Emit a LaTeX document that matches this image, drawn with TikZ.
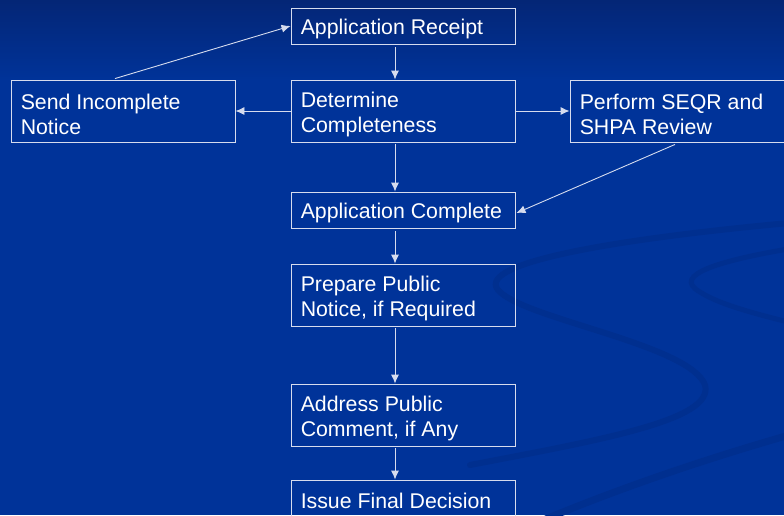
\documentclass[tikz,border=0pt]{standalone}
\usepackage{fontspec}
\setmainfont{Liberation Sans}
\usetikzlibrary{arrows.meta,calc}
\definecolor{bgblue}{RGB}{0,51,153}
\definecolor{bgtop}{RGB}{4,38,118}
\definecolor{swoosh}{RGB}{0,47,143}
\definecolor{linec}{RGB}{214,220,238}
\tikzset{
  x=1pt,y=-1pt,
  stepbox/.style={draw=linec, line width=0.9pt, rectangle, minimum width=224pt, inner sep=0pt},
  onel/.style={stepbox, minimum height=36pt},
  twol/.style={stepbox, minimum height=62pt},
  txt/.style={anchor=west, align=left, inner sep=0pt, text=white,
    font=\fontsize{21.3}{25}\selectfont, xshift=10pt, yshift=-3pt},
  conn/.style={draw=linec, line width=0.9pt, -{Latex[length=9pt,width=8pt]}},
}
\begin{document}
\begin{tikzpicture}
\useasboundingbox (0,0) rectangle (784,515);
\fill[bgblue] (0,0) rectangle (784,515);
\shade[top color=bgtop, bottom color=bgblue] (0,0) rectangle (784,80);
% swooshes
\begin{scope}
\clip (0,0) rectangle (784,515);
\draw[swoosh, line width=6pt, line cap=round]
  (800,222) .. controls (600,240) and (470,265) .. (500,292)
  .. controls (530,320) and (690,345) .. (705,385)
  .. controls (715,420) and (600,440) .. (470,465);
\draw[swoosh, line width=5pt]
  (800,247) .. controls (720,260) and (670,275) .. (700,292)
  .. controls (720,305) and (760,315) .. (800,325);
\draw[swoosh, line width=7pt]
  (800,432) .. controls (700,460) and (600,495) .. (520,530);
\end{scope}
% boxes
\node[onel] (rec) at (403,26) {};
\node[twol] (det) at (403,111) {};
\node[twol] (inc) at (123,111) {};
\node[twol] (seqr) at (682,111) {};
\node[onel] (comp) at (403,210) {};
\node[twol] (prep) at (403,295) {};
\node[twol] (addr) at (403,415) {};
\node[onel] (iss) at (403,498) {};
% texts
\node[txt] (recT) at (rec.west) {Application Receipt};
\node[txt] (detT) at (det.west) {Determine\\Completeness};
\node[txt] (incT) at (inc.west) {Send Incomplete\\Notice};
\node[txt] (seqrT) at (seqr.west) {Perform SEQR and\\SHPA Review};
\node[txt] (compT) at (comp.west) {Application Complete};
\node[txt] (prepT) at (prep.west) {Prepare Public\\Notice, if Required};
\node[txt] (addrT) at (addr.west) {Address Public\\Comment, if Any};
\node[txt] (issT) at (iss.west) {Issue Final Decision};
% connectors
\draw[conn, shorten <=3pt] (rec.south -| 395,0) -- (det.north -| 395,0);
\draw[conn, shorten <=2pt] (det.south -| 395,0) -- (comp.north -| 395,0);
\draw[conn, shorten <=3pt] (comp.south -| 395,0) -- (prep.north -| 395,0);
\draw[conn, shorten <=2pt] (prep.south -| 395,0) -- (addr.north -| 395,0);
\draw[conn, shorten <=2pt] (addr.south -| 395,0) -- (iss.north -| 395,0);
\draw[conn] (det.west) -- (inc.east);
\draw[conn] (det.east) -- (seqr.west);
\draw[conn] ($(inc.north)+(-8,-1)$) -- (rec.west);
\draw[conn] ($(seqr.south)+(-7,2)$) -- ($(comp.east)+(1,3)$);
\end{tikzpicture}
\end{document}
